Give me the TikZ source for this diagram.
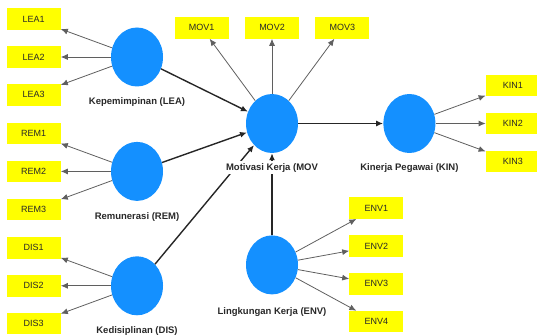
\documentclass[tikz,border=0pt]{standalone}
\usepackage{fontspec}
\setmainfont{Liberation Sans}
\usetikzlibrary{positioning, shapes.geometric, arrows.meta}
\definecolor{latentblue}{RGB}{20,144,255}
\definecolor{indyellow}{RGB}{255,255,0}
\definecolor{textgray}{RGB}{40,40,40}
\definecolor{arrowgray}{RGB}{95,95,95}

\begin{document}
\begin{tikzpicture}[x=1pt, y=-1pt, >={Latex[length=7pt,width=6pt]},
  latent/.style={ellipse, fill=latentblue, minimum width=52pt, minimum height=59pt, inner sep=0pt},
  indicator/.style={fill=indyellow, minimum width=54pt, minimum height=21.5pt, inner sep=0pt,
    font=\fontsize{9}{10}\selectfont, text=textgray},
  lvname/.style={font=\bfseries\fontsize{9.5}{11}\selectfont, text=textgray, fill=white, inner sep=2pt},
  loading/.style={->, draw=arrowgray, line width=0.8pt},
  effect/.style={->, draw=black!85, line width=1.4pt}]
  \useasboundingbox (0,0) rectangle (537,336);

  \node[latent]                       (lea) at (137,57) {};
  \node[indicator, left=50pt of lea]  (lea2) {LEA2};
  \node[indicator, above=16pt of lea2] (lea1) {LEA1};
  \node[indicator, below=16pt of lea2] (lea3) {LEA3};

  \node[latent, below=55pt of lea]    (rem) {};
  \node[indicator, left=50pt of rem]  (rem2) {REM2};
  \node[indicator, above=16pt of rem2] (rem1) {REM1};
  \node[indicator, below=16pt of rem2] (rem3) {REM3};

  \node[latent, below=55pt of rem]    (dis) {};
  \node[indicator, left=50pt of dis]  (dis2) {DIS2};
  \node[indicator, above=16pt of dis2] (dis1) {DIS1};
  \node[indicator, below=16pt of dis2] (dis3) {DIS3};

  \node[latent]                       (mov) at (272,123.5) {};
  \node[indicator, above=55pt of mov] (mov2) {MOV2};
  \node[indicator, left=16pt of mov2] (mov1) {MOV1};
  \node[indicator, right=16pt of mov2] (mov3) {MOV3};

  \node[latent, right=85pt of mov]    (kin) {};
  \node[indicator, right=50pt of kin] (kin2) {KIN2};
  \node[indicator, above=16pt of kin2] (kin1) {KIN1};
  \node[indicator, below=16pt of kin2] (kin3) {KIN3};

  \node[latent, below=82pt of mov]    (env) {};
  \node[indicator, right=51pt of env, yshift=19pt] (env2) {ENV2};
  \node[indicator, above=16pt of env2] (env1) {ENV1};
  \node[indicator, below=16pt of env2] (env3) {ENV3};
  \node[indicator, below=16pt of env3] (env4) {ENV4};

  % outer loadings
  \draw[loading] (lea) -- (lea1);
  \draw[loading] (lea) -- (lea2);
  \draw[loading] (lea) -- (lea3);
  \draw[loading] (rem) -- (rem1);
  \draw[loading] (rem) -- (rem2);
  \draw[loading] (rem) -- (rem3);
  \draw[loading] (dis) -- (dis1);
  \draw[loading] (dis) -- (dis2);
  \draw[loading] (dis) -- (dis3);
  \draw[loading] (mov) -- (mov1);
  \draw[loading] (mov) -- (mov2);
  \draw[loading] (mov) -- (mov3);
  \draw[loading] (kin) -- (kin1);
  \draw[loading] (kin) -- (kin2);
  \draw[loading] (kin) -- (kin3);
  \draw[loading] (env) -- (env1);
  \draw[loading] (env) -- (env2);
  \draw[loading] (env) -- (env3);
  \draw[loading] (env) -- (env4);

  % inner model
  \draw[effect] (lea) -- (mov);
  \draw[effect] (rem) -- (mov);
  \draw[effect] (dis) -- (mov);
  \draw[effect] (env) -- (mov);
  \draw[effect] (mov) -- (kin);

  % construct names, over the lines
  \node[lvname, below=9pt of lea]     (lea label) {Kepemimpinan (LEA)};
  \node[lvname, below=9pt of rem]     (rem label) {Remunerasi (REM)};
  \node[lvname, below=9pt of dis]     (dis label) {Kedisiplinan (DIS)};
  \node[lvname, below=8pt of mov]     (mov label) {Motivasi Kerja (MOV};
  \node[lvname, below=8pt of kin]     (kin label) {Kinerja Pegawai (KIN)};
  \node[lvname, below=11pt of env]    (env label) {Lingkungan Kerja (ENV)};
\end{tikzpicture}
\end{document}
